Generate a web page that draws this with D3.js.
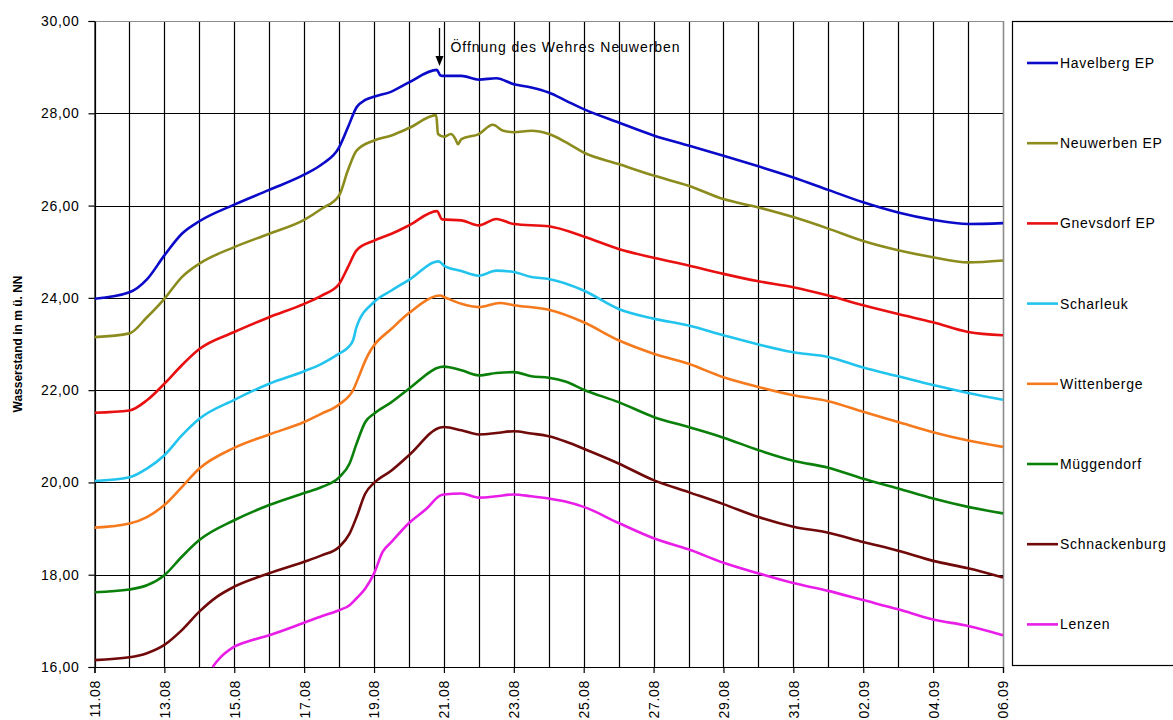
<!DOCTYPE html>
<html>
<head>
<meta charset="utf-8">
<script src="https://cdn.jsdelivr.net/npm/d3@7"></script>
<style>
  html, body { margin: 0; padding: 0; background: #fff; }
  svg { display: block; font-family: "Liberation Sans", Arial, sans-serif; }
  .tick text { font-size: 14px; letter-spacing: 0.7px; fill: #000; }
</style>
</head>
<body>
<svg id="chart" width="1173" height="720"></svg>
<script>
// Wasserstände der Elbe-Pegel, August/September 2002
// Jeder Punkt: [Tage seit 11.08. 00:00, Wasserstand in m ü. NN]
const startDate = Date.UTC(2002, 7, 11);
const endDate = Date.UTC(2002, 8, 6);

const havelbergEP = [[0,23.98],[1,24.12],[1.5,24.40],[2,24.92],[2.5,25.39],[3,25.66],[4,26.02],[5,26.34],[6,26.67],[6.5,26.89],[7,27.26],[7.25,27.69],[7.5,28.13],[7.75,28.29],[8,28.36],[8.5,28.47],[9,28.67],[9.8,28.94],[9.9,28.82],[10,28.81],[10.5,28.81],[11,28.73],[11.5,28.76],[12,28.63],[12.5,28.56],[13,28.45],[13.5,28.27],[14,28.09],[15,27.80],[16,27.52],[17,27.30],[18,27.08],[19,26.85],[20,26.61],[21,26.34],[22,26.07],[23,25.85],[24,25.69],[25,25.60],[26,25.62]];

const neuwerbenEP = [[0,23.15],[1,23.23],[1.5,23.58],[2,23.98],[2.5,24.45],[3,24.74],[4,25.10],[5,25.39],[6,25.69],[6.5,25.93],[7,26.22],[7.25,26.76],[7.5,27.19],[8,27.41],[8.5,27.52],[9,27.68],[9.78,27.96],[9.83,27.55],[10,27.49],[10.2,27.55],[10.33,27.44],[10.4,27.33],[10.5,27.44],[11,27.55],[11.4,27.75],[11.7,27.62],[12,27.59],[12.5,27.62],[13,27.55],[13.5,27.37],[14,27.15],[15,26.90],[16,26.65],[17,26.43],[18,26.14],[19,25.96],[20,25.75],[21,25.50],[22,25.23],[23,25.03],[24,24.88],[25,24.77],[26,24.81]];

const gnevsdorfEP = [[0,21.51],[1,21.56],[1.5,21.78],[2,22.14],[2.5,22.54],[3,22.89],[4,23.26],[5,23.58],[6,23.87],[6.5,24.05],[7,24.30],[7.25,24.66],[7.5,25.03],[8,25.24],[8.5,25.39],[9,25.57],[9.8,25.88],[9.95,25.70],[10.5,25.68],[11,25.57],[11.5,25.71],[12,25.60],[13,25.55],[14,25.33],[15,25.06],[16,24.87],[17,24.70],[18,24.52],[19,24.36],[20,24.23],[21,24.05],[22,23.84],[23,23.65],[24,23.47],[25,23.26],[26,23.19]];

const scharleuk = [[0,20.03],[1,20.11],[1.5,20.30],[2,20.59],[2.5,21.02],[3,21.38],[4,21.79],[5,22.14],[6,22.41],[6.5,22.57],[7,22.79],[7.25,22.92],[7.4,23.08],[7.5,23.37],[8,23.91],[8.5,24.16],[9,24.39],[9.85,24.79],[10,24.70],[10.5,24.58],[11,24.48],[11.5,24.59],[12,24.56],[12.5,24.45],[13,24.41],[14,24.16],[15,23.76],[16,23.55],[17,23.40],[18,23.19],[19,22.99],[20,22.82],[21,22.72],[22,22.49],[23,22.30],[24,22.11],[25,21.94],[26,21.79]];

const wittenberge = [[0,19.02],[1,19.11],[1.5,19.25],[2,19.51],[2.5,19.90],[3,20.30],[4,20.75],[5,21.04],[6,21.31],[6.5,21.49],[7,21.69],[7.4,22.00],[7.6,22.36],[7.75,22.64],[7.9,22.86],[8,22.97],[8.5,23.33],[9,23.67],[9.9,24.05],[10,24.02],[10.5,23.87],[11,23.80],[11.6,23.89],[12,23.84],[13,23.74],[14,23.47],[15,23.08],[16,22.79],[17,22.57],[18,22.28],[19,22.07],[20,21.89],[21,21.76],[22,21.53],[23,21.31],[24,21.09],[25,20.91],[26,20.77]];

const mueggendorf = [[0,17.62],[1,17.68],[1.5,17.77],[2,17.99],[2.5,18.39],[3,18.75],[4,19.18],[5,19.51],[6,19.77],[6.5,19.90],[7,20.11],[7.3,20.41],[7.5,20.84],[7.75,21.31],[8,21.49],[8.5,21.74],[9,22.03],[9.9,22.50],[10,22.51],[10.5,22.43],[11,22.32],[11.5,22.37],[12,22.39],[12.5,22.30],[13,22.27],[13.5,22.18],[14,22.01],[15,21.74],[16,21.42],[17,21.20],[18,20.97],[19,20.70],[20,20.47],[21,20.32],[22,20.08],[23,19.87],[24,19.65],[25,19.47],[26,19.33]];

const schnackenburg = [[0,16.15],[1,16.21],[1.5,16.30],[2,16.48],[2.5,16.80],[3,17.20],[3.5,17.52],[4,17.74],[5,18.03],[6,18.28],[6.5,18.42],[7,18.60],[7.3,18.89],[7.5,19.25],[7.75,19.76],[8,19.99],[8.5,20.26],[9,20.59],[9.9,21.19],[10,21.20],[10.5,21.13],[11,21.04],[11.5,21.07],[12,21.11],[12.5,21.06],[13,21.00],[13.5,20.88],[14,20.73],[15,20.41],[16,20.05],[17,19.79],[18,19.53],[19,19.25],[20,19.04],[21,18.91],[22,18.71],[23,18.52],[24,18.30],[25,18.14],[26,17.94]];

const lenzen = [[3.38,16.00],[3.5,16.12],[4,16.44],[4.5,16.58],[5,16.69],[6,16.96],[6.5,17.10],[7,17.23],[7.3,17.34],[7.5,17.49],[7.75,17.70],[8,18.03],[8.25,18.50],[8.5,18.71],[9,19.12],[9.5,19.43],[9.9,19.72],[10,19.74],[10.5,19.76],[11,19.67],[11.5,19.70],[12,19.74],[12.5,19.70],[13,19.65],[13.5,19.58],[14,19.47],[15,19.12],[16,18.79],[17,18.55],[18,18.26],[19,18.03],[20,17.82],[21,17.65],[22,17.45],[23,17.25],[24,17.03],[25,16.89],[26,16.69]];

const seriesNames = ["Havelberg EP", "Neuwerben EP", "Gnevsdorf EP", "Scharleuk", "Wittenberge", "Müggendorf", "Schnackenburg", "Lenzen"];
const seriesData = [havelbergEP, neuwerbenEP, gnevsdorfEP, scharleuk, wittenberge, mueggendorf, schnackenburg, lenzen];
const seriesColors = ["#0a0ac8", "#8c8c1e", "#e81010", "#22c4ee", "#f57a1e", "#0a800a", "#700a0a", "#e81ee8"];

const yTicks = [16, 18, 20, 22, 24, 26, 28, 30];
const xLabelDays = [0, 2, 4, 6, 8, 10, 12, 14, 16, 18, 20, 22, 24, 26];
const yTitle = "Wasserstand in m ü. NN";
const annotationText = "Öffnung des Wehres Neuwerben";
const annotationDay = 9.86;

const dayMs = 864e5;
const toDate = d => new Date(startDate + d * dayMs);

const svg = d3.select("#chart");
const plot = { left: 94.5, right: 1003, top: 21, bottom: 667 };

const x = d3.scaleUtc().domain([new Date(startDate), new Date(endDate)]).range([plot.left, plot.right]);
const y = d3.scaleLinear().domain([16, 30]).range([plot.bottom, plot.top]);

// Vertical day gridlines
svg.append("g")
  .selectAll("line")
  .data(d3.utcDay.range(new Date(startDate), new Date(endDate + 1)))
  .join("line")
  .attr("x1", d => Math.round(x(d)) + 0.5).attr("x2", d => Math.round(x(d)) + 0.5)
  .attr("y1", plot.top).attr("y2", plot.bottom)
  .attr("stroke", "#000").attr("stroke-width", 1.2);

// Horizontal gridlines
svg.append("g")
  .selectAll("line")
  .data(yTicks)
  .join("line")
  .attr("x1", plot.left).attr("x2", plot.right)
  .attr("y1", d => Math.round(y(d)) + 0.5).attr("y2", d => Math.round(y(d)) + 0.5)
  .attr("stroke", d => d === 30 ? "#8c8c8c" : "#000").attr("stroke-width", 1.2);

// Right border of the plot area
svg.append("line")
  .attr("x1", Math.round(plot.right) + 0.5).attr("x2", Math.round(plot.right) + 0.5)
  .attr("y1", plot.top).attr("y2", plot.bottom)
  .attr("stroke", "#8c8c8c").attr("stroke-width", 1.2);

// Y axis
const yAxis = d3.axisLeft(y).tickValues(yTicks).tickSize(6).tickPadding(9)
  .tickFormat(d => d3.format(".2f")(d).replace(".", ","));
const gy = svg.append("g").attr("transform", `translate(${plot.left},0)`).call(yAxis);
gy.select(".domain").attr("stroke", "#000").attr("stroke-width", 1.2);
gy.selectAll(".tick line").attr("stroke", "#000").attr("stroke-width", 1.2);
gy.selectAll(".tick text").style("font-family", "'Liberation Sans', Arial, sans-serif");

// X axis with rotated labels every second day
const xAxis = d3.axisBottom(x).tickValues(xLabelDays.map(toDate)).tickSize(6)
  .tickFormat(d3.utcFormat("%d.%m"));
const gx = svg.append("g").attr("transform", `translate(0,${plot.bottom})`).call(xAxis);
gx.select(".domain").attr("stroke", "#000").attr("stroke-width", 1.2);
gx.selectAll(".tick line").attr("stroke", "#000").attr("stroke-width", 1.2);
gx.selectAll(".tick text")
  .style("font-family", "'Liberation Sans', Arial, sans-serif")
  .attr("text-anchor", "end")
  .attr("dy", "0.35em")
  .attr("transform", "translate(0,13) rotate(-90)")
  .attr("x", 0).attr("y", 0);

// Series lines
svg.append("clipPath").attr("id", "plot-clip")
  .append("rect").attr("x", plot.left).attr("y", plot.top - 2)
  .attr("width", plot.right - plot.left + 1).attr("height", plot.bottom - plot.top + 4);

const line = d3.line()
  .x(d => x(toDate(d[0])))
  .y(d => y(d[1]))
  .curve(d3.curveMonotoneX);

svg.append("g").attr("clip-path", "url(#plot-clip)")
  .selectAll("path")
  .data(seriesData)
  .join("path")
  .attr("d", line)
  .attr("fill", "none")
  .attr("stroke", (d, i) => seriesColors[i])
  .attr("stroke-width", 2.6)
  .attr("stroke-linejoin", "round");

// Y axis title
svg.append("text")
  .attr("transform", `translate(22,${(plot.top + plot.bottom) / 2}) rotate(-90)`)
  .attr("text-anchor", "middle")
  .style("font-size", "12px").style("font-weight", "bold")
  .text(yTitle);

// Annotation arrow and text
const ax = Math.round(x(toDate(annotationDay))) + 0.5;
svg.append("line")
  .attr("x1", ax).attr("x2", ax).attr("y1", 28).attr("y2", 58)
  .attr("stroke", "#000").attr("stroke-width", 1.3);
svg.append("path")
  .attr("d", `M${ax - 4},56 L${ax + 4},56 L${ax},66 Z`)
  .attr("fill", "#000");
svg.append("text")
  .attr("x", ax + 11).attr("y", 52)
  .style("font-size", "14px").style("letter-spacing", "0.95px")
  .text(annotationText);

// Legend
const legend = svg.append("g");
legend.append("rect")
  .attr("x", 1012.5).attr("y", 21.5).attr("width", 200).attr("height", 644)
  .attr("fill", "#fff").attr("stroke", "#000").attr("stroke-width", 1.2);
const items = legend.selectAll("g.item")
  .data(seriesNames)
  .join("g").attr("class", "item")
  .attr("transform", (d, i) => `translate(0,${63 + i * 80.2})`);
items.append("line")
  .attr("x1", 1027).attr("x2", 1058).attr("y1", 0).attr("y2", 0)
  .attr("stroke", (d, i) => seriesColors[i]).attr("stroke-width", 2.6);
items.append("text")
  .attr("x", 1060).attr("y", 0).attr("dy", "0.35em")
  .style("font-size", "14px").style("letter-spacing", "0.7px")
  .text(d => d);
</script>
</body>
</html>
